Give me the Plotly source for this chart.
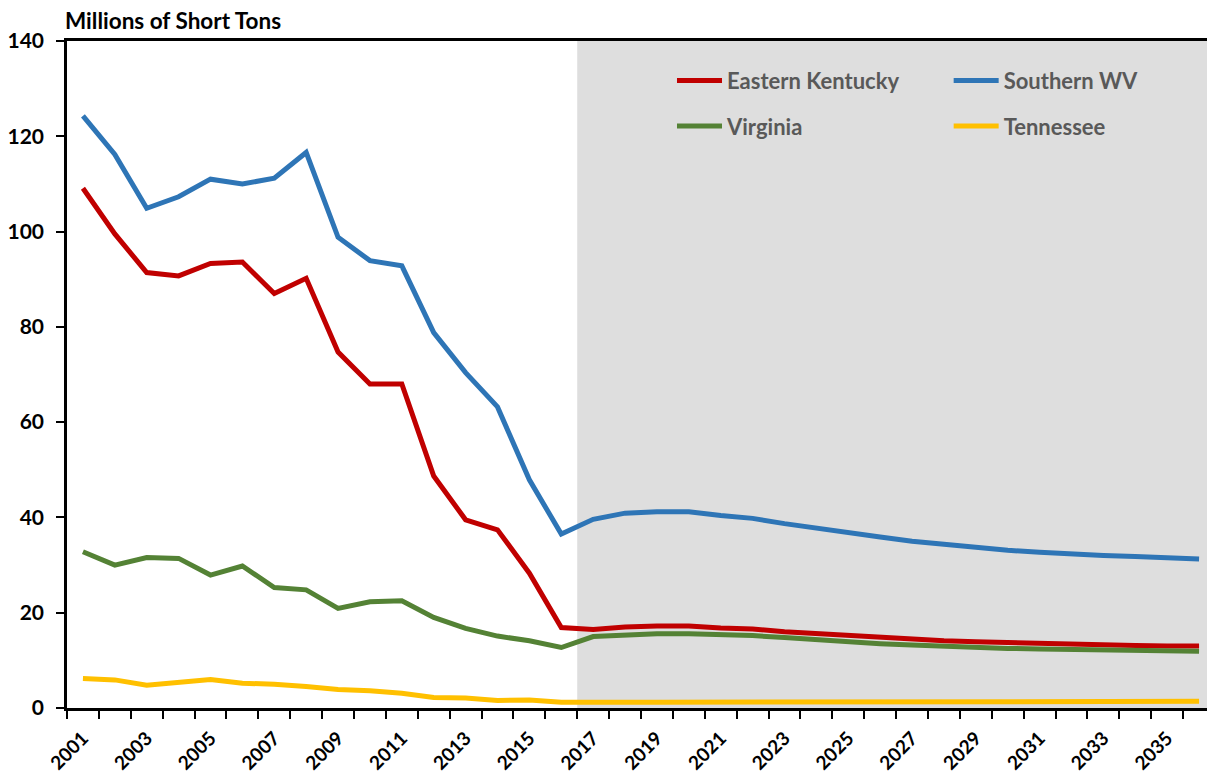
import plotly.graph_objects as go

years = list(range(2001, 2037))

eastern_kentucky = [109.1, 99.5, 91.4, 90.7, 93.3, 93.6, 87.0, 90.2, 74.7, 68.0,
                    68.0, 48.7, 39.5, 37.4, 28.3, 16.9, 16.5, 17.0, 17.2, 17.2,
                    16.8, 16.6, 16.0, 15.6, 15.2, 14.8, 14.4, 14.1, 13.9, 13.7,
                    13.5, 13.4, 13.2, 13.1, 13.0, 13.0]
southern_wv = [124.3, 116.2, 104.9, 107.3, 111.0, 110.0, 111.2, 116.6, 98.8, 93.9,
               92.8, 78.8, 70.4, 63.2, 47.9, 36.5, 39.6, 40.9, 41.2, 41.2,
               40.4, 39.8, 38.7, 37.7, 36.8, 35.9, 35.0, 34.3, 33.6, 33.1,
               32.7, 32.3, 32.0, 31.8, 31.6, 31.3]
virginia = [32.8, 30.0, 31.6, 31.4, 27.9, 29.8, 25.3, 24.8, 20.9, 22.3,
            22.5, 19.0, 16.7, 15.1, 14.1, 12.7, 15.0, 15.4, 15.6, 15.6,
            15.5, 15.2, 14.8, 14.3, 13.9, 13.5, 13.2, 12.9, 12.7, 12.5,
            12.4, 12.3, 12.2, 12.1, 12.0, 11.9]
tennessee = [6.2, 5.9, 4.8, 5.4, 6.0, 5.2, 5.0, 4.5, 3.9, 3.6,
             3.1, 2.2, 2.1, 1.6, 1.7, 1.2, 1.1, 1.2, 1.2, 1.2,
             1.2, 1.3, 1.3, 1.3, 1.3, 1.3, 1.3, 1.3, 1.3, 1.4,
             1.4, 1.4, 1.4, 1.4, 1.4, 1.4]

tick_years = list(range(2001, 2036, 2))
tick_labels = [str(y) for y in tick_years]
y_ticks = list(range(0, 141, 20))
projection_start = 2016.5
projection_end = 2036.5

FONT = "Lato"

fig = go.Figure()

series = [
    ("Eastern Kentucky", eastern_kentucky, "#C00000", "legend"),
    ("Southern WV", southern_wv, "#2E75B6", "legend2"),
    ("Virginia", virginia, "#548235", "legend"),
    ("Tennessee", tennessee, "#FFC000", "legend2"),
]
for name, vals, color, lg in series:
    fig.add_trace(go.Scatter(
        x=years, y=vals, mode="lines", name=name,
        line=dict(color=color, width=5),
        legend=lg, legendgroup=name,
    ))

fig.add_shape(type="rect", xref="x", yref="paper",
              x0=projection_start, x1=projection_end, y0=0, y1=1,
              fillcolor="#DEDEDE", line=dict(width=0), layer="below")

legend_common = dict(
    xanchor="left", yanchor="top", orientation="v",
    bgcolor="rgba(0,0,0,0)",
    font=dict(family=FONT, size=22, color="#595959", weight="bold"),
    itemwidth=45, tracegroupgap=14,
)

fig.update_layout(
    width=1207, height=770,
    margin=dict(l=59, r=0, t=33, b=70, autoexpand=False),
    plot_bgcolor="white", paper_bgcolor="white",
    font=dict(family=FONT, color="black"),
    showlegend=True,
    legend=dict(x=0.527, y=0.972, **legend_common),
    legend2=dict(x=0.768, y=0.972, **legend_common),
    xaxis=dict(
        range=[2000.5, projection_end],
        tickmode="array", tickvals=tick_years, ticktext=tick_labels,
        tickangle=-45, ticks="",
        tickfont=dict(family=FONT, size=19, color="black", weight="bold"),
        ticklabelstandoff=9,
        showgrid=False, zeroline=False,
        showline=True, linecolor="black", linewidth=2.5, mirror=True,
        minor=dict(tickvals=[y - 0.5 for y in years] + [projection_end],
                   ticks="outside", ticklen=8, tickcolor="black", tickwidth=2,
                   showgrid=False),
    ),
    yaxis=dict(
        range=[0, 140], tickmode="array", tickvals=y_ticks,
        ticks="outside", ticklen=8, tickcolor="black", tickwidth=2,
        tickfont=dict(family=FONT, size=21, color="black", weight="bold"),
        ticklabelstandoff=8,
        showgrid=False, zeroline=False,
        showline=True, linecolor="black", linewidth=2.5,
    ),
    annotations=[dict(
        text="Millions of Short Tons", xref="paper", yref="paper",
        x=0, y=1, xanchor="left", yanchor="bottom", xshift=-4, yshift=5,
        showarrow=False,
        font=dict(family=FONT, size=22.5, color="black", weight="bold"),
    )],
)

fig.write_html("out.html")
